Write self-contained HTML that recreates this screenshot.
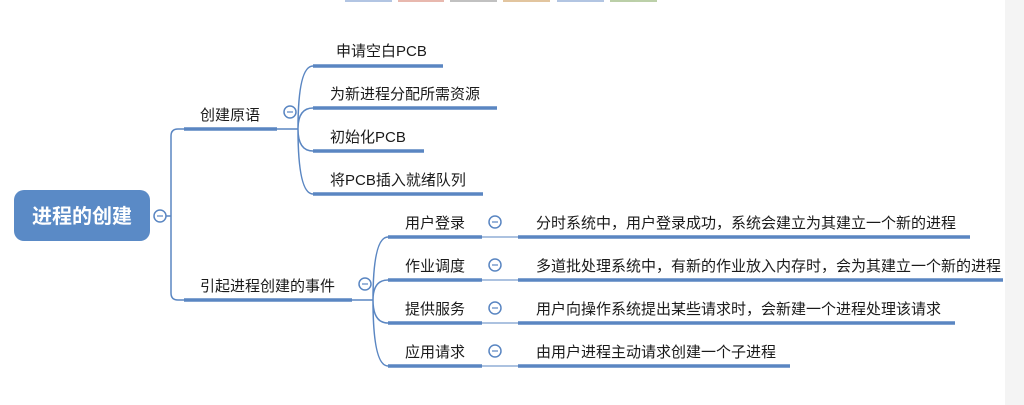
<!DOCTYPE html>
<html><head><meta charset="utf-8"><style>
html,body{margin:0;padding:0;background:#fff;}
svg{display:block}
text{font-family:"Liberation Sans","Noto Sans CJK SC",sans-serif;font-size:15px;fill:#1a1a1a}
</style></head><body>
<svg width="1024" height="405" viewBox="0 0 1024 405">
<rect x="1005" y="0" width="19" height="405" fill="#f4f4f4"/>
<g fill="none" stroke-width="2" opacity="0.6">
<line x1="345" y1="1" x2="392" y2="1" stroke="#7f9fd0"/>
<line x1="398" y1="1" x2="444" y2="1" stroke="#d98a7a"/>
<line x1="450" y1="1" x2="497" y2="1" stroke="#999"/>
<line x1="503" y1="1" x2="550" y2="1" stroke="#d0a060"/>
<line x1="557" y1="1" x2="604" y2="1" stroke="#7f9fd0"/>
<line x1="610" y1="1" x2="657" y2="1" stroke="#8fb070"/>
</g>
<rect x="14" y="190" width="136" height="51" rx="10" fill="#5a8ac6"/>
<text x="82" y="223" text-anchor="middle" style="font-size:20px;font-weight:bold;fill:#fff">进程的创建</text>
<g fill="none" stroke="#5a86c2" stroke-width="1.5">
<circle cx="160" cy="216" r="6" fill="#fff"/>
<path d="M166 216 H171 M171 216 V136 Q171 129 178 129 H184 M171 216 V293 Q171 300 178 300 H184"/>
<circle cx="290" cy="112" r="6" fill="#fff"/>
<path d="M277 129 H298 M298 129 Q298 66 313 66 M298 129 Q298 108 313 108 M298 129 Q298 151 313 151 M298 129 Q298 194 313 194"/>
<circle cx="365" cy="284" r="6" fill="#fff"/>
<path d="M352 300 H373 M373 300 Q373 237 388 237 M373 300 Q373 280 388 280 M373 300 Q373 323 388 323 M373 300 Q373 366 388 366"/>
<circle cx="495" cy="222" r="6" fill="#fff"/>
<circle cx="495" cy="265" r="6" fill="#fff"/>
<circle cx="495" cy="308" r="6" fill="#fff"/>
<circle cx="495" cy="351" r="6" fill="#fff"/>
<path d="M482 237 H518 M482 280 H518 M482 323 H518 M482 366 H518" stroke-width="1"/>
</g>
<g stroke="#5a86c2" stroke-width="3.5">
<line x1="184" y1="129" x2="277" y2="129"/>
<line x1="184" y1="300" x2="352" y2="300"/>
<line x1="313" y1="66" x2="443" y2="66"/>
<line x1="313" y1="108" x2="497" y2="108"/>
<line x1="313" y1="151" x2="424" y2="151"/>
<line x1="313" y1="194" x2="483" y2="194"/>
<line x1="388" y1="237" x2="482" y2="237"/>
<line x1="388" y1="280" x2="482" y2="280"/>
<line x1="388" y1="323" x2="482" y2="323"/>
<line x1="388" y1="366" x2="482" y2="366"/>
<line x1="518" y1="237" x2="970" y2="237"/>
<line x1="518" y1="280" x2="1003" y2="280"/>
<line x1="518" y1="323" x2="955" y2="323"/>
<line x1="518" y1="366" x2="790" y2="366"/>
</g>
<g stroke="#5a86c2" stroke-width="1.2">
<line x1="157" y1="216" x2="163" y2="216"/>
<line x1="287" y1="112" x2="293" y2="112"/>
<line x1="362" y1="284" x2="368" y2="284"/>
<line x1="492" y1="222" x2="498" y2="222"/>
<line x1="492" y1="265" x2="498" y2="265"/>
<line x1="492" y1="308" x2="498" y2="308"/>
<line x1="492" y1="351" x2="498" y2="351"/>
</g>
<text x="200" y="120">创建原语</text>
<text x="200" y="291">引起进程创建的事件</text>
<text x="336" y="56">申请空白PCB</text>
<text x="330" y="99">为新进程分配所需资源</text>
<text x="330" y="142">初始化PCB</text>
<text x="330" y="185">将PCB插入就绪队列</text>
<text x="405" y="228">用户登录</text>
<text x="405" y="271">作业调度</text>
<text x="405" y="314">提供服务</text>
<text x="405" y="357">应用请求</text>
<text x="536" y="228">分时系统中，用户登录成功，系统会建立为其建立一个新的进程</text>
<text x="536" y="271">多道批处理系统中，有新的作业放入内存时，会为其建立一个新的进程</text>
<text x="536" y="314">用户向操作系统提出某些请求时，会新建一个进程处理该请求</text>
<text x="536" y="357">由用户进程主动请求创建一个子进程</text>
</svg>
</body></html>
